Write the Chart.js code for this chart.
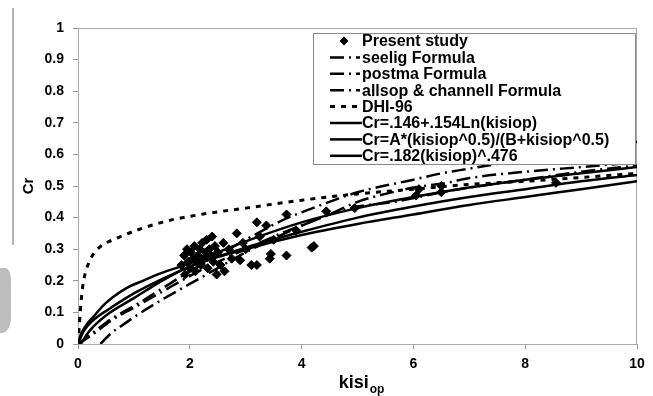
<!DOCTYPE html>
<html>
<head>
<meta charset="utf-8">
<script src="https://cdn.jsdelivr.net/npm/chart.js@4.4.1/dist/chart.umd.min.js"></script>
<style>
  html, body { margin: 0; padding: 0; background: #fff; }
  #wrap { width: 653px; height: 396px; position: relative; }
</style>
</head>
<body>
<div id="wrap"><canvas id="chartCanvas"></canvas></div>
<script>
const studyX = [1.85, 1.9, 1.92, 1.95, 1.97, 2.0, 2.02, 2.05, 2.08, 2.1, 2.12, 2.15, 2.18, 2.2, 2.22, 2.25, 2.28, 2.3,
  2.32, 2.35, 2.38, 2.4, 2.42, 2.45, 2.48, 2.5, 2.55, 2.6, 2.62, 2.7, 2.75, 2.84, 2.9, 2.95, 3.0, 3.1, 3.2, 3.2, 3.25,
  3.37, 3.43, 3.45, 3.5, 3.73, 3.73, 3.9, 4.18, 4.22, 4.44, 4.95, 6.05, 6.1, 6.5, 6.5, 8.55];
const studyY = [0.25, 0.28, 0.22, 0.3, 0.26, 0.24, 0.29, 0.27, 0.31, 0.23, 0.26, 0.28, 0.3, 0.25, 0.32, 0.27, 0.29, 0.33,
  0.24, 0.3, 0.28, 0.34, 0.26, 0.31, 0.22, 0.29, 0.25, 0.32, 0.23, 0.3, 0.27, 0.35, 0.265, 0.32, 0.3, 0.25, 0.25, 0.385, 0.34,
  0.375, 0.27, 0.285, 0.33, 0.28, 0.41, 0.36, 0.305, 0.31, 0.42, 0.43, 0.47, 0.49, 0.48, 0.5, 0.51];

// curves
const seeligX = [0, 0.3, 0.6, 1, 1.5, 2, 2.5, 3, 3.7, 4.5, 5, 5.5, 6, 6.6, 7, 8, 9, 10];
const seeligY = [0, 0.035, 0.075, 0.115, 0.165, 0.215, 0.26, 0.3, 0.355, 0.41, 0.45, 0.475, 0.495, 0.51, 0.525, 0.545, 0.56, 0.575];

const postmaX = [0, 0.3, 0.6, 1, 1.5, 2, 2.5, 3, 3.7, 4.2, 5, 6, 6.5, 7, 8, 9, 10];
const postmaY = [0, 0.04, 0.08, 0.12, 0.175, 0.23, 0.28, 0.33, 0.395, 0.43, 0.48, 0.52, 0.54, 0.555, 0.585, 0.615, 0.64];

const allsopX = [0.4, 0.6, 0.8, 1, 1.5, 2, 2.5, 3, 3.7, 4.5, 5, 5.6, 6.5, 7, 8, 9, 10];
const allsopY = [0, 0.035, 0.06, 0.085, 0.14, 0.19, 0.24, 0.29, 0.35, 0.41, 0.435, 0.448, 0.48, 0.495, 0.52, 0.545, 0.565];

const dhiX = [0, 0.02, 0.04, 0.07, 0.1, 0.2, 0.35, 0.7, 1.5, 2.2, 3, 4, 5, 6, 7, 8, 9, 10];
const dhiY = [0, 0.05, 0.1, 0.16, 0.2, 0.26, 0.3, 0.335, 0.385, 0.41, 0.43, 0.455, 0.475, 0.49, 0.505, 0.515, 0.527, 0.54];

const lnX = [0.05, 0.2, 0.5, 1, 1.5, 2, 3, 4, 5, 6, 7, 8, 9, 10];
const lnY = [0, 0.04, 0.09, 0.145, 0.2, 0.245, 0.3, 0.345, 0.38, 0.41, 0.44, 0.465, 0.49, 0.515];

const ratioX = [0, 0.05, 0.15, 0.27, 0.5, 0.86, 1.16, 1.5, 2, 3, 4, 5, 6, 7, 8, 9, 10];
const ratioY = [0, 0.03, 0.06, 0.085, 0.13, 0.176, 0.2, 0.225, 0.255, 0.325, 0.385, 0.43, 0.465, 0.495, 0.52, 0.54, 0.56];

const powX = [0, 0.1, 0.27, 0.55, 1, 1.5, 2, 3, 4, 5, 6, 7, 8, 9, 10];
const powY = [0, 0.04, 0.075, 0.11, 0.16, 0.205, 0.245, 0.305, 0.355, 0.4, 0.435, 0.465, 0.49, 0.515, 0.535];

const seriesLabels = ["Present study", "seelig Formula", "postma Formula", "allsop & channell Formula", "DHI-96",
  "Cr=.146+.154Ln(kisiop)", "Cr=A*(kisiop^0.5)/(B+kisiop^0.5)", "Cr=.182(kisiop)^.476"];

const FONT = "'Liberation Sans', Arial, sans-serif";

function toPoints(xs, ys) {
  return xs.map((x, i) => ({ x: x, y: ys[i] }));
}

function curve(label, xs, ys, dash, width) {
  return {
    label: label,
    data: toPoints(xs, ys),
    showLine: true,
    borderColor: "#000",
    borderWidth: width,
    borderDash: dash,
    pointRadius: 0,
    cubicInterpolationMode: "monotone",
    fill: false
  };
}

// scanner smudges at the left edge of the page
const scanMarks = {
  id: "scanMarks",
  beforeDraw(chart) {
    const ctx = chart.ctx;
    ctx.save();
    ctx.fillStyle = "#fff";
    ctx.fillRect(0, 0, chart.width, chart.height);
    ctx.strokeStyle = "#9c9c9c";
    ctx.lineWidth = 1.5;
    ctx.beginPath();
    ctx.moveTo(13, 8);
    ctx.lineTo(13, 245);
    ctx.stroke();
    ctx.fillStyle = "#bdbdbd";
    ctx.beginPath();
    ctx.moveTo(0, 268);
    ctx.lineTo(6, 268);
    ctx.quadraticCurveTo(12, 270, 11, 290);
    ctx.lineTo(11, 318);
    ctx.quadraticCurveTo(10, 332, 2, 333);
    ctx.lineTo(0, 333);
    ctx.closePath();
    ctx.fill();
    ctx.restore();
  }
};

// thin frame round the plot area
const plotFrame = {
  id: "plotFrame",
  beforeDatasetsDraw(chart) {
    const { ctx, chartArea: a } = chart;
    ctx.save();
    ctx.strokeStyle = "#a8a8a8";
    ctx.lineWidth = 1;
    ctx.strokeRect(a.left + 0.5, a.top + 0.5, a.right - a.left - 1, a.bottom - a.top);
    ctx.restore();
  }
};

// legend boxed inside the plot, drawn over the curves
const boxLegend = {
  id: "boxLegend",
  afterDatasetsDraw(chart) {
    const { ctx, chartArea: a } = chart;
    const left = a.left + 235, top = a.top + 5, right = a.right - 1, bottom = a.top + 137;
    ctx.save();
    ctx.fillStyle = "#fff";
    ctx.fillRect(left, top, right - left, bottom - top);
    ctx.strokeStyle = "#8a8a8a";
    ctx.lineWidth = 1;
    ctx.strokeRect(left + 0.5, top + 0.5, right - left - 1, bottom - top - 1);

    ctx.font = "bold 16px " + FONT;
    ctx.textBaseline = "middle";
    ctx.fillStyle = "#000";
    chart.data.datasets.forEach((ds, i) => {
      const y = top + 8 + i * 16.4;
      const sx = left + 17;
      ctx.strokeStyle = "#000";
      if (!ds.showLine) {
        ctx.beginPath();
        ctx.moveTo(sx + 14, y - 4.5);
        ctx.lineTo(sx + 18.5, y);
        ctx.lineTo(sx + 14, y + 4.5);
        ctx.lineTo(sx + 9.5, y);
        ctx.closePath();
        ctx.fill();
      } else if (ds.borderDash.length) {
        ctx.lineWidth = ds.borderWidth;
        ctx.setLineDash(ds.borderDash);
        ctx.beginPath();
        ctx.moveTo(sx, y);
        ctx.lineTo(sx + 30, y);
        ctx.stroke();
        ctx.setLineDash([]);
      } else {
        ctx.lineWidth = ds.borderWidth;
        ctx.beginPath();
        ctx.moveTo(sx, y);
        ctx.lineTo(sx + 32, y);
        ctx.stroke();
      }
      ctx.fillText(ds.label, left + 49, y + 1);
    });
    ctx.restore();
  }
};

// x axis title with the "op" subscript
const xTitle = {
  id: "xTitle",
  afterDraw(chart) {
    const ctx = chart.ctx;
    ctx.save();
    ctx.fillStyle = "#000";
    ctx.textBaseline = "alphabetic";
    ctx.font = "bold 18px " + FONT;
    const main = "kisi";
    const w = ctx.measureText(main).width;
    ctx.font = "bold 12px " + FONT;
    const sw = ctx.measureText("op").width;
    const x0 = 361 - (w + sw) / 2;
    ctx.font = "bold 18px " + FONT;
    ctx.fillText(main, x0, 388);
    ctx.font = "bold 12px " + FONT;
    ctx.fillText("op", x0 + w + 1, 393);
    ctx.restore();
  }
};

const ctx = document.getElementById("chartCanvas").getContext("2d");
new Chart(ctx, {
  type: "scatter",
  data: {
    datasets: [
      {
        label: seriesLabels[0],
        data: toPoints(studyX, studyY),
        pointStyle: "rectRot",
        pointRadius: 4.5,
        backgroundColor: "#000",
        borderColor: "#000",
        borderWidth: 1,
        showLine: false
      },
      curve(seriesLabels[1], seeligX, seeligY, [14, 5, 2, 5], 2.5),
      curve(seriesLabels[2], postmaX, postmaY, [14, 5, 2, 5], 2.5),
      curve(seriesLabels[3], allsopX, allsopY, [14, 5, 2, 5], 2.5),
      curve(seriesLabels[4], dhiX, dhiY, [5, 6], 3),
      curve(seriesLabels[5], lnX, lnY, [], 2.5),
      curve(seriesLabels[6], ratioX, ratioY, [], 2.5),
      curve(seriesLabels[7], powX, powY, [], 2.5)
    ]
  },
  options: {
    responsive: true,
    maintainAspectRatio: false,
    animation: false,
    layout: { padding: { top: 28, right: 16, left: 0, bottom: 0 } },
    plugins: {
      legend: { display: false },
      tooltip: { enabled: false }
    },
    scales: {
      x: {
        type: "linear",
        min: 0,
        max: 10,
        ticks: { stepSize: 2, color: "#000", padding: 7, font: { family: FONT, size: 14, weight: "bold" } },
        grid: { drawOnChartArea: false, drawTicks: true, tickLength: 5, color: "#999" },
        border: { color: "#999" },
        afterFit(scale) { scale.height = 52; }
      },
      y: {
        min: 0,
        max: 1,
        ticks: {
          stepSize: 0.1,
          color: "#000",
          padding: 9,
          font: { family: FONT, size: 14, weight: "bold" },
          callback: (value) => String(Number(value.toFixed(1)))
        },
        grid: { drawOnChartArea: false, drawTicks: true, tickLength: 5, color: "#999" },
        border: { color: "#999" },
        title: {
          display: true,
          text: "Cr",
          color: "#000",
          padding: { top: 20, bottom: 0 },
          font: { family: FONT, size: 15, weight: "bold" }
        },
        afterFit(scale) { scale.width = 78; }
      }
    }
  },
  plugins: [scanMarks, plotFrame, boxLegend, xTitle]
});
</script>
</body>
</html>
